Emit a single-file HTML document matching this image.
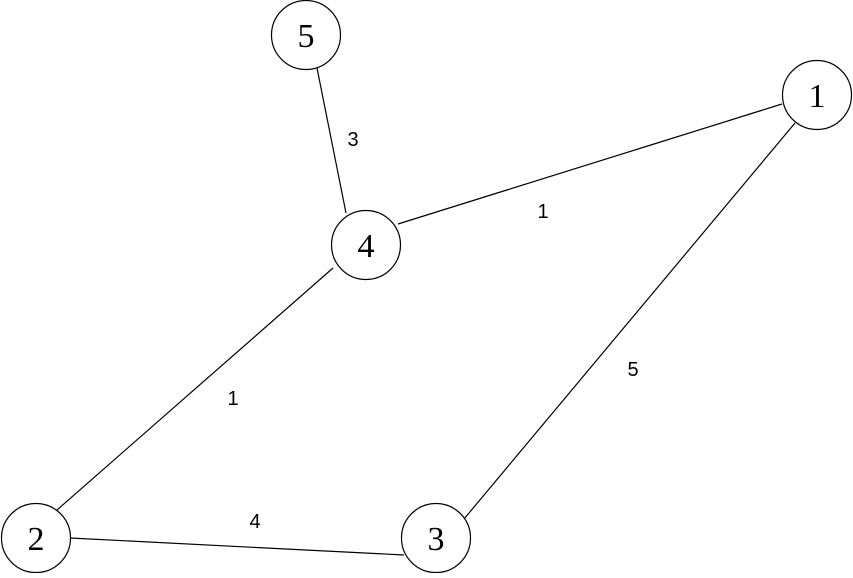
<!DOCTYPE html>
<html><head><style>html,body{margin:0;padding:0;background:#fff}</style></head>
<body>
<svg width="853" height="573" viewBox="0 0 853 573" xmlns="http://www.w3.org/2000/svg">
<g stroke="#000" stroke-width="1.2" fill="none">
<line x1="317" y1="68" x2="346" y2="213"/>
<line x1="398" y1="224" x2="782" y2="104"/>
<line x1="795" y1="123" x2="464" y2="519"/>
<line x1="333" y1="268" x2="57" y2="510"/>
<line x1="70" y1="538" x2="404" y2="555"/>
</g>
<g stroke="#000" stroke-width="1.2" fill="#fff">
<circle cx="306" cy="35" r="34.5"/>
<circle cx="817" cy="95" r="34.5"/>
<circle cx="366" cy="245" r="34.5"/>
<circle cx="36" cy="538" r="34.5"/>
<circle cx="436" cy="538" r="34.5"/>
</g>
<g font-family="Liberation Serif, serif" font-size="34" text-anchor="middle">
<text x="306" y="47">5</text>
<text x="817" y="107">1</text>
<text x="366" y="257">4</text>
<text x="36" y="550">2</text>
<text x="436" y="550">3</text>
</g>
<g font-family="Liberation Sans, sans-serif" font-size="20" text-anchor="middle">
<text x="353" y="146">3</text>
<text x="543" y="218">1</text>
<text x="633" y="376">5</text>
<text x="233" y="405">1</text>
<text x="255" y="528">4</text>
</g>
</svg>
</body></html>
